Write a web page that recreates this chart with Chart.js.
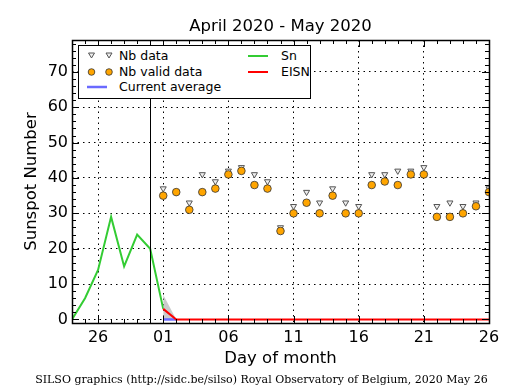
<!DOCTYPE html>
<html>
<head>
<meta charset="utf-8">
<script src="https://cdn.jsdelivr.net/npm/chart.js@4/dist/chart.umd.min.js"></script>
<style>
  body { margin: 0; background: #fff; }
  #wrap { position: relative; width: 515px; height: 390px; font-family: "DejaVu Sans", sans-serif; color: #000; }
  #chart { position: absolute; left: 0; top: 0; }
  #title { position: absolute; left: 72px; width: 417px; top: 16px; line-height: 20px; font-size: 16.5px; text-align: center; }
  #legend { position: absolute; left: 78px; top: 45px; width: 231px; height: 52px; border: 1px solid #000; background: #fff; font-size: 12.5px; }
  .item { position: absolute; height: 16px; line-height: 16px; white-space: nowrap; }
  .item svg { position: absolute; top: 0; }
  .item span { position: absolute; top: 0; }
  #credit { position: absolute; left: 0; width: 523px; top: 373px; text-align: center; font-family: "DejaVu Serif", serif; font-size: 11px; }
</style>
</head>
<body>
<div id="wrap">
  <canvas id="chart" width="515" height="390"></canvas>
  <div id="title">April 2020 - May 2020</div>
  <div id="legend">
    <div class="item" style="left:0; top:2px; width:230px;">
      <svg width="40" height="16" style="left:4px"><polygon points="5.5,5 11.5,5 8.5,10" fill="#eee" stroke="#555"/><polygon points="23,5 29,5 26,10" fill="#eee" stroke="#555"/></svg>
      <span style="left:40px">Nb data</span>
    </div>
    <div class="item" style="left:0; top:18px; width:230px;">
      <svg width="40" height="16" style="left:4px"><circle cx="8.5" cy="8" r="3.3" fill="#ffa500" stroke="#333" stroke-width="0.8"/><circle cx="26" cy="8" r="3.3" fill="#ffa500" stroke="#333" stroke-width="0.8"/></svg>
      <span style="left:40px">Nb valid data</span>
    </div>
    <div class="item" style="left:0; top:33px; width:230px;">
      <svg width="40" height="16" style="left:4px"><line x1="4" y1="8" x2="24" y2="8" stroke="#6a6aff" stroke-width="2.5"/></svg>
      <span style="left:40px">Current average</span>
    </div>
    <div class="item" style="left:160px; top:2px; width:70px;">
      <svg width="30" height="16" style="left:8px"><line x1="1" y1="8" x2="21" y2="8" stroke="#33cc33" stroke-width="2"/></svg>
      <span style="left:42px">Sn</span>
    </div>
    <div class="item" style="left:160px; top:18px; width:70px;">
      <svg width="30" height="16" style="left:8px"><line x1="1" y1="8" x2="21" y2="8" stroke="#ff0000" stroke-width="2"/></svg>
      <span style="left:42px">EISN</span>
    </div>
  </div>
  <div id="credit">SILSO graphics (http://sidc.be/silso) Royal Observatory of Belgium, 2020 May 26</div>
</div>
<script>
// days shown (april tail, then may)
const aprilDays = [24, 25, 26, 27, 28, 29, 30];
const mayDays = [1, 2, 3, 4, 5, 6, 7, 8, 9, 10, 11, 12, 13, 14, 15, 16, 17, 18, 19, 20, 21, 22, 23, 24, 25, 26];

// daily Sn, Apr 24 .. May 1
const snDays = [24, 25, 26, 27, 28, 29, 30, 31];  // 31 = May 1
const snValues = [0, 6, 14, 29, 15, 24, 20, 3];

// May 1 .. May 26
const nbData = [37, 36, 33, 41, 39, 42, 43, 41, 39, 26, 32, 36, 33, 37, 33, 32, 41, 41, 42, 42, 43, 32, 33, 32, 33, 37];
const nbValid = [35, 36, 31, 36, 37, 41, 42, 38, 37, 25, 30, 33, 30, 35, 30, 30, 38, 39, 38, 41, 41, 29, 29, 30, 32, 36];
const eisn = [3, 0, 0, 0, 0, 0, 0, 0, 0, 0, 0, 0, 0, 0, 0, 0, 0, 0, 0, 0, 0, 0, 0, 0, 0, 0];

// current average + spread, May 1 .. May 2
const avgDays = [1, 2];
const avgValues = [0, 0];
const bandUpper = [7, 0];
const bandLower = [0, 0];

const xTickValues = [-5, 0, 5, 10, 15, 20, 25];
const xTickLabels = ['26', '01', '06', '11', '16', '21', '26'];
const yTickValues = [0, 10, 20, 30, 40, 50, 60, 70];
const monthBreak = -1; // black line at Apr 30

// x = days since May 1
const aprX = d => d - 31;
const mayX = d => d - 1;

const snPts = snDays.map((d, i) => ({ x: aprX(d), y: snValues[i] }));
const nbPts = mayDays.map((d, i) => ({ x: mayX(d), y: nbData[i] }));
const validPts = mayDays.map((d, i) => ({ x: mayX(d), y: nbValid[i] }));
const eisnPts = mayDays.map((d, i) => ({ x: mayX(d), y: eisn[i] }));
const avgPts = avgDays.map((d, i) => ({ x: mayX(d), y: avgValues[i] }));
const upPts = avgDays.map((d, i) => ({ x: mayX(d), y: bandUpper[i] }));
const lowPts = avgDays.map((d, i) => ({ x: mayX(d), y: bandLower[i] }));

// frame, inward ticks, month separator
const framePlugin = {
    id: 'frame',
    afterDraw(chart) {
        const { ctx, chartArea: a, scales: { x, y } } = chart;
        ctx.save();
        ctx.strokeStyle = '#000';
        ctx.lineWidth = 1;

        const bx = Math.round(x.getPixelForValue(monthBreak)) + 0.5;
        ctx.beginPath();
        ctx.moveTo(bx, a.top);
        ctx.lineTo(bx, a.bottom);
        ctx.stroke();

        ctx.beginPath();
        for (let d = x.min; d <= x.max; d++) {
            const px = Math.round(x.getPixelForValue(d)) + 0.5;
            const len = xTickValues.includes(d) ? 7 : 4;
            ctx.moveTo(px, a.bottom); ctx.lineTo(px, a.bottom - len);
            ctx.moveTo(px, a.top); ctx.lineTo(px, a.top + len);
        }
        for (let v = 0; v <= 78; v += 2) {
            const py = Math.round(y.getPixelForValue(v)) + 0.5;
            const len = yTickValues.includes(v) ? 7 : 4;
            ctx.moveTo(a.left, py); ctx.lineTo(a.left + len, py);
            ctx.moveTo(a.right, py); ctx.lineTo(a.right - len, py);
        }
        ctx.stroke();

        ctx.lineWidth = 1.5;
        ctx.strokeRect(Math.round(a.left) + 0.5, Math.round(a.top) + 0.5, Math.round(a.right - a.left), Math.round(a.bottom - a.top));
        ctx.restore();
    }
};

new Chart(document.getElementById('chart'), {
    type: 'line',
    data: {
        datasets: [
            { label: 'Nb valid data', data: validPts, showLine: false, pointStyle: 'circle', pointRadius: 3.8,
              pointBackgroundColor: '#ffa500', pointBorderColor: '#333', pointBorderWidth: 0.8, clip: 0 },
            { label: 'Nb data', data: nbPts, showLine: false, pointStyle: 'triangle', pointRotation: 180, pointRadius: 3.5,
              pointBackgroundColor: '#eee', pointBorderColor: '#555', pointBorderWidth: 1, clip: 0 },
            { label: 'EISN', data: eisnPts, borderColor: '#ff0000', borderWidth: 2, pointRadius: 0 },
            { label: 'Current average', data: avgPts, borderColor: '#6a6aff', borderWidth: 2.5, pointRadius: 0 },
            { label: 'upper', data: upPts, borderWidth: 0, pointRadius: 0, fill: '+1', backgroundColor: 'rgba(190,190,190,0.8)' },
            { label: 'lower', data: lowPts, borderWidth: 0, pointRadius: 0 },
            { label: 'Sn', data: snPts, borderColor: '#33cc33', borderWidth: 2, pointRadius: 0 }
        ]
    },
    options: {
        responsive: false,
        animation: false,
        layout: { padding: { top: 40, right: 26, left: 0, bottom: 0 } },
        plugins: { legend: { display: false }, tooltip: { enabled: false }, title: { display: false } },
        scales: {
            x: {
                type: 'linear', min: -7, max: 25,
                afterBuildTicks: s => { s.ticks = xTickValues.map(v => ({ value: v })); },
                afterFit: s => { s.height = 67; },
                ticks: { color: '#000', padding: 5, font: { family: 'DejaVu Sans', size: 16 }, maxRotation: 0,
                         callback: (v, i) => xTickLabels[i] },
                grid: { color: '#000', lineWidth: 1, drawTicks: false },
                border: { display: false, dash: [1.5, 4] },
                title: { display: true, text: 'Day of month', color: '#000', font: { family: 'DejaVu Sans', size: 16.5 },
                         padding: { top: 0, bottom: 21.5 } }
            },
            y: {
                min: -1, max: 79,
                afterBuildTicks: s => { s.ticks = yTickValues.map(v => ({ value: v })); },
                afterFit: s => { s.width = 72; },
                ticks: { color: '#000', padding: 4, font: { family: 'DejaVu Sans', size: 16 } },
                grid: { color: '#000', lineWidth: 1, drawTicks: false },
                border: { display: false, dash: [1.5, 4] },
                title: { display: true, text: 'Sunspot Number', color: '#000', font: { family: 'DejaVu Sans', size: 16.5 },
                         padding: { top: 22, bottom: 0 } }
            }
        }
    },
    plugins: [framePlugin]
});
</script>
</body>
</html>
